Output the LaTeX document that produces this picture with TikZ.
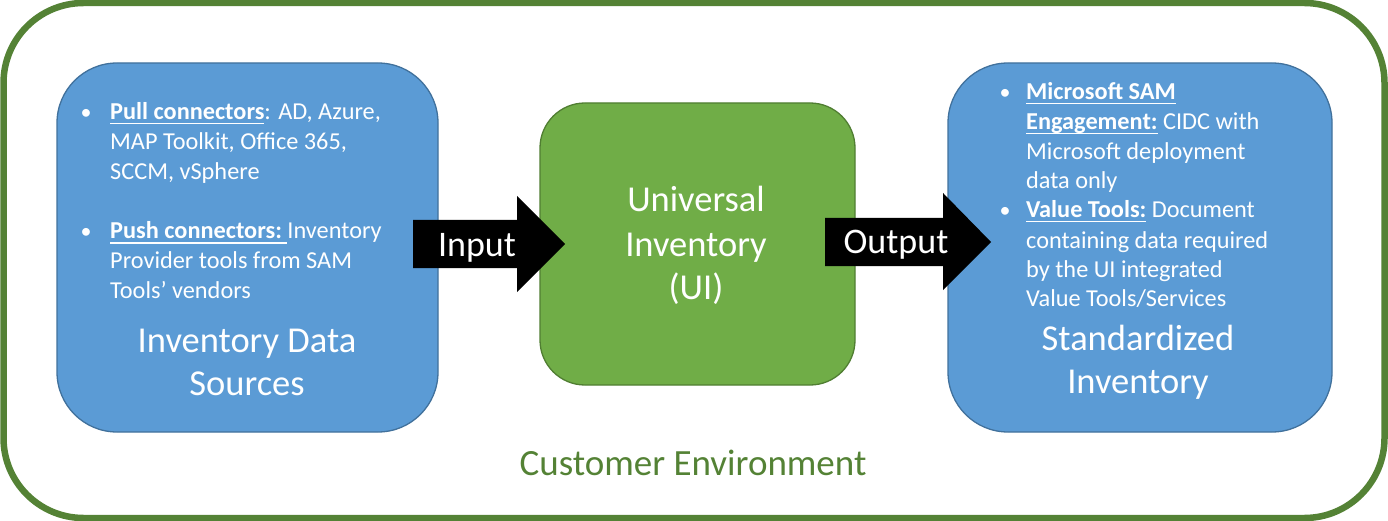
\documentclass[tikz,border=0pt]{standalone}
\usepackage{fontspec}
\setmainfont{Carlito}
\newsavebox\ulbox
\newcommand\myul[1]{\sbox\ulbox{#1}\rlap{\rule[-4.5pt]{\wd\ulbox}{1.8pt}}\usebox\ulbox}
\definecolor{envgreen}{HTML}{548235}
\definecolor{boxblue}{HTML}{5B9BD5}
\definecolor{blueedge}{HTML}{41719C}
\definecolor{boxgreen}{HTML}{70AD47}
\definecolor{greenedge}{HTML}{507E32}
\tikzset{
  envframe/.style={draw=envgreen, line width=6.5pt, rounded corners=80pt, minimum width=1381pt, minimum height=515pt, inner sep=0pt},
  bluebox/.style={draw=blueedge, fill=boxblue, line width=1.3pt, rounded corners=60pt, inner sep=0pt},
  greenbox/.style={draw=greenedge, fill=boxgreen, line width=1.3pt, rounded corners=45pt, inner sep=0pt},
  smalltxt/.style={font=\fontsize{24.3}{29}\selectfont, text=white, inner sep=0pt, anchor=base west},
  bul/.style={font=\fontsize{22}{29}\selectfont, text=white, inner sep=0pt, anchor=base},
  bigtxt/.style={font=\fontsize{36.5}{43}\selectfont, text=white, inner sep=0pt, anchor=base},
  arrtxt/.style={font=\fontsize{36}{43}\selectfont, text=white, inner sep=0pt, anchor=base},
  blockarrow/.style={fill=black}
}
\begin{document}
\begin{tikzpicture}[x=1pt,y=-1pt]
\useasboundingbox (0,0) rectangle (1388,521);
\node[envframe] (env) at (694,260.5) {};
\node[bluebox, minimum width=381pt, minimum height=369pt] (src) at (247.5,247.5) {};
\node[greenbox, minimum width=315pt, minimum height=282pt] (ui) at (697.5,244) {};
\node[bluebox, minimum width=384pt, minimum height=369pt] (std) at (1140,247.5) {};

% arrows
\fill[blockarrow] (413,220) -- (517,220) -- (517,196) -- (565,244) -- (517,292) -- (517,268) -- (413,268) -- cycle;
\fill[blockarrow] (825,218) -- (943,218) -- (943,193) -- (991,242) -- (943,290) -- (943,266) -- (825,266) -- cycle;
\node[arrtxt] (inp) at (477,256) {Input};
\node[arrtxt] (outp) at (896,254) {Output};

% left box text
\node[bul] (lb1) at (86,120) {•};
\node[smalltxt] (l1) at (110,120) {\myul{\textbf{Pull connectors}}: AD, Azure,};
\node[smalltxt] (l2) at (110,150) {MAP Toolkit, Office 365,};
\node[smalltxt] (l3) at (110,180) {SCCM, vSphere};
\node[bul] (lb2) at (86,239) {•};
\node[smalltxt] (l4) at (110,239) {\myul{\textbf{Push connectors:}\ }Inventory};
\node[smalltxt] (l5) at (110,269) {Provider tools from SAM};
\node[smalltxt] (l6) at (110,298) {Tools’ vendors};
\node[bigtxt] (l7) at (247,352) {Inventory Data};
\node[bigtxt] (l8) at (247,395) {Sources};

% center text
\node[bigtxt] (u1) at (696,212) {Universal};
\node[bigtxt] (u2) at (696,256) {Inventory};
\node[bigtxt] (u3) at (696,299) {(UI)};

% right box text
\node[bul] (rb1) at (1005,100) {•};
\node[smalltxt] (r1) at (1026,100) {\myul{\textbf{Microsoft SAM}}};
\node[smalltxt] (r2) at (1026,130) {\myul{\textbf{Engagement:}} CIDC with};
\node[smalltxt] (r3) at (1026,160) {Microsoft deployment};
\node[smalltxt] (r4) at (1026,189) {data only};
\node[bul] (rb2) at (1005,218) {•};
\node[smalltxt] (r5) at (1026,218) {\myul{\textbf{Value Tools:}} Document};
\node[smalltxt] (r6) at (1026,248) {containing data required};
\node[smalltxt] (r7) at (1026,277) {by the UI integrated};
\node[smalltxt] (r8) at (1026,306) {Value Tools/Services};
\node[bigtxt] (r9) at (1138,350) {Standardized};
\node[bigtxt] (r10) at (1138,393) {Inventory};

\node[bigtxt, text=envgreen, font=\fontsize{37}{44}\selectfont] (envlbl) at (693,475) {Customer Environment};
\end{tikzpicture}
\end{document}
